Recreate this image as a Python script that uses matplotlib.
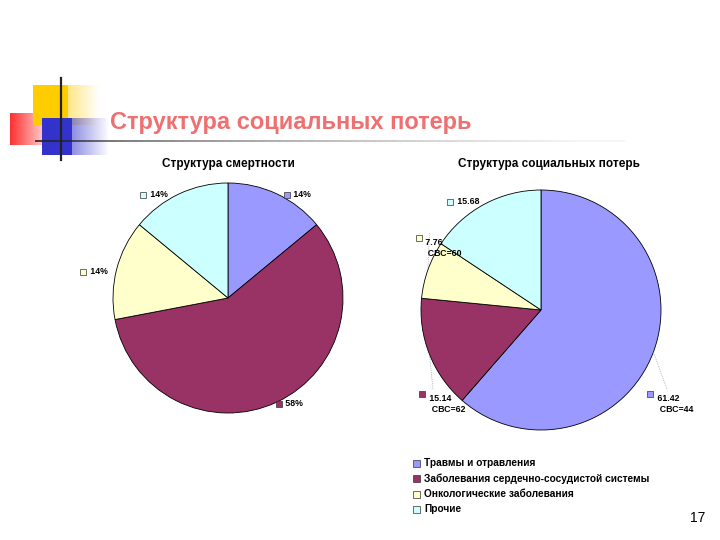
import matplotlib

matplotlib.use("Agg")
import matplotlib.pyplot as plt  # noqa: E402
import numpy as np  # noqa: E402
from matplotlib.patches import Rectangle  # noqa: E402

plt.rcParams["font.family"] = ["Liberation Sans", "DejaVu Sans"]

categories = ["Травмы и отравления", "Заболевания сердечно-сосудистой системы",
              "Онкологические заболевания", "Прочие"]
colors = ["#9999ff", "#993366", "#ffffcc", "#ccffff"]

mort_values = [14, 58, 14, 14]
mort_labels = ["14%", "58%", "14%", "14%"]
loss_values = [61.42, 15.14, 7.76, 15.68]
loss_labels = ["61.42\nСВС=44", "15.14\nСВС=62", "7.76\nСВС=60", "15.68"]

# label positions in pie units (hand-placed like the original)
mort_pos = [(0.55, 0.90), (0.48, -0.92), (-1.22, 0.23), (-0.70, 0.90)]
loss_pos = [(0.95, -0.70), (-0.95, -0.70), (-0.98, 0.60), (-0.72, 0.90)]

fig = plt.figure(figsize=(7.2, 5.4), dpi=100)

# decorative corner
deco = fig.add_axes([0, 0, 1, 1])
deco.set_xlim(0, 720)
deco.set_ylim(540, 0)
deco.axis("off")
grad = np.linspace(1, 0, 50)[None, :]
deco.imshow(np.dstack([np.ones_like(grad), 0.8 + 0 * grad, 0 * grad, grad]),
            extent=(33, 100, 125, 85), aspect="auto")
deco.add_patch(Rectangle((33, 85), 35, 40, color="#ffcc00", lw=0))
deco.imshow(np.dstack([0.2 + 0 * grad, 0.2 + 0 * grad, 0.8 + 0 * grad, grad]),
            extent=(42, 110, 155, 118), aspect="auto")
deco.add_patch(Rectangle((42, 118), 30, 37, color="#3333cc", lw=0))
deco.imshow(np.dstack([1 + 0 * grad, np.linspace(0.1, 1, 50)[None, :],
                       np.linspace(0.1, 1, 50)[None, :], 0.9 + 0 * grad]),
            extent=(10, 55, 145, 113), aspect="auto")
deco.plot([61, 61], [78, 160], color="#222222", lw=1.6)
lg = np.linspace(0, 1, 60)
for i in range(59):
    deco.plot([35 + i * 10, 45 + i * 10], [141, 141], color="#222222",
              lw=1.2, alpha=max(0.05, 1 - lg[i] ** 0.6), solid_capstyle="butt")
deco.text(110, 122, "Структура социальных потерь", fontsize=17, fontweight="bold",
          color="#ee7070", va="center", ha="left")
deco.text(228, 164, "Структура смертности", fontsize=8.5, fontweight="bold",
          ha="center", va="center")
deco.text(549, 164, "Структура социальных потерь", fontsize=8.5, fontweight="bold",
          ha="center", va="center")
deco.text(705, 518, "17", fontsize=10, ha="right", va="center")

# legend
for i, (c, name) in enumerate(zip(colors, categories)):
    y = 463 + i * 15.5
    deco.add_patch(Rectangle((413, y - 3.5), 7, 7, facecolor=c, edgecolor="#333333", lw=0.5))
    deco.text(424, y, name, fontsize=7.3, fontweight="bold", va="center")


def draw_pie(rect, values, labels, pos, leaders=False):
    ax = fig.add_axes(rect)
    wedges, _ = ax.pie(values, colors=colors, startangle=90, counterclock=False,
                       wedgeprops=dict(edgecolor="black", linewidth=0.6))
    ax.set_xlim(-1, 1)
    ax.set_ylim(-1, 1)
    for w, c, lab, (x, y) in zip(wedges, colors, labels, pos):
        ax.plot(x - 0.04, y, marker="s", ms=4, mfc=c, mec="#333333", mew=0.5,
                clip_on=False)
        ax.text(x, y, " " + lab.replace("\n", "\n  "), fontsize=6.3, fontweight="bold",
                va="top" if "\n" in lab else "center", ha="left", clip_on=False,
                linespacing=1.3)
        if leaders and "\n" in lab:
            mid = np.deg2rad((w.theta1 + w.theta2) / 2)
            ex, ey = np.cos(mid), np.sin(mid)
            ax.plot([x + (0.05 if x < 0 else 0.1), ex * 1.0], [y + 0.04, ey * 1.0],
                    color="#888888", lw=0.5, ls=":", clip_on=False)
    return ax


draw_pie([113 / 720, (540 - 413) / 540, 230 / 720, 230 / 540],
         mort_values, mort_labels, mort_pos)
draw_pie([421 / 720, (540 - 430) / 540, 240 / 720, 240 / 540],
         loss_values, loss_labels, loss_pos, leaders=True)

fig.savefig("out.png", dpi=100)
